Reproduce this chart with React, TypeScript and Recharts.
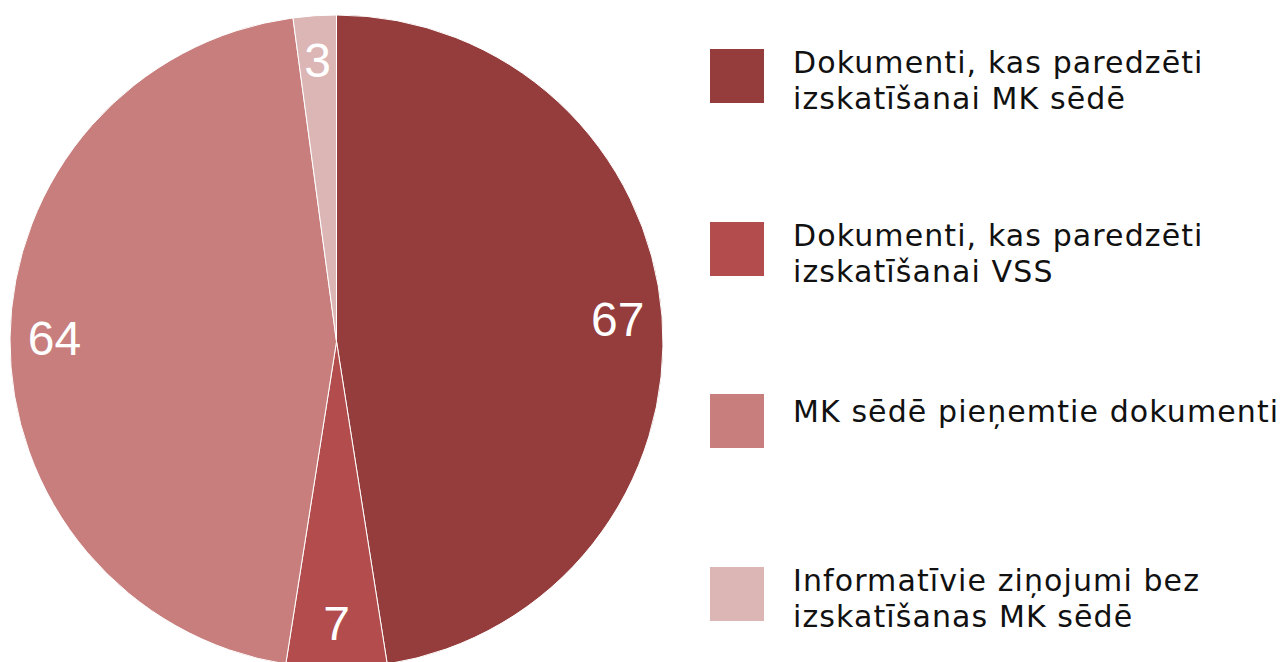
import React from "react";
import { Legend, Pie, PieChart, Cell } from "recharts";

// Dokumentu sadalījums
const categories = [
  "Dokumenti, kas paredzēti izskatīšanai MK sēdē",
  "Dokumenti, kas paredzēti izskatīšanai VSS",
  "MK sēdē pieņemtie dokumenti",
  "Informatīvie ziņojumi bez izskatīšanas MK sēdē",
];
const values = [67, 7, 64, 3];
const legendLines = [
  ["Dokumenti, kas paredzēti", "izskatīšanai MK sēdē"],
  ["Dokumenti, kas paredzēti", "izskatīšanai VSS"],
  ["MK sēdē pieņemtie dokumenti"],
  ["Informatīvie ziņojumi bez", "izskatīšanas MK sēdē"],
];
const colors = ["#953c3c", "#b34c4c", "#c87e7c", "#dbb6b5"];

const data = categories.map((name, i) => ({ name, value: values[i] }));

const RAD = Math.PI / 180;

function renderLabel(props: any) {
  const { cx, cy, midAngle, value } = props;
  const r = 282;
  const x = cx + r * Math.cos(-midAngle * RAD);
  const y = cy + r * Math.sin(-midAngle * RAD);
  return (
    <text
      x={x}
      y={y}
      fill="#fff"
      textAnchor="middle"
      dominantBaseline="central"
      fontFamily="'Liberation Sans', Arial, sans-serif"
      fontSize={48}
    >
      {value}
    </text>
  );
}

function LegendBox() {
  return (
    <div style={{ position: "relative", width: 573, height: 662 }}>
      {legendLines.map((lines, i) => {
        const top = 49 + i * 172.5;
        return (
          <div key={i}>
            <div
              style={{
                position: "absolute",
                left: 0,
                top,
                width: 54,
                height: 54,
                background: colors[i],
              }}
            />
            <div
              style={{
                position: "absolute",
                left: 83,
                top: lines.length > 1 ? top - 4 : top,
                fontFamily: "'DejaVu Sans', Verdana, sans-serif",
                fontSize: 30,
                letterSpacing: "1.1px",
                lineHeight: "36px",
                color: "#111",
                whiteSpace: "nowrap",
              }}
            >
              {lines.map((l, j) => (
                <div key={j}>{l}</div>
              ))}
            </div>
          </div>
        );
      })}
    </div>
  );
}

export default function App() {
  return (
    <div
      style={{
        position: "fixed",
        left: 0,
        top: 0,
        width: 1283,
        height: 662,
        overflow: "hidden",
        background: "#fff",
      }}
    >
      <PieChart width={1283} height={662} margin={{ top: 0, right: 0, bottom: 0, left: 0 }}>
        <Pie
          data={data}
          dataKey="value"
          nameKey="name"
          cx={336.5}
          cy={341.5}
          outerRadius={326.5}
          startAngle={90}
          endAngle={-270}
          stroke="#fff"
          strokeWidth={1}
          label={renderLabel}
          labelLine={false}
          isAnimationActive={false}
        >
          {data.map((d, i) => (
            <Cell key={d.name} fill={colors[i]} />
          ))}
        </Pie>
        <Legend
          content={() => <LegendBox />}
          wrapperStyle={{ position: "absolute", left: 710, top: 0, width: 573, height: 662 }}
        />
      </PieChart>
    </div>
  );
}
